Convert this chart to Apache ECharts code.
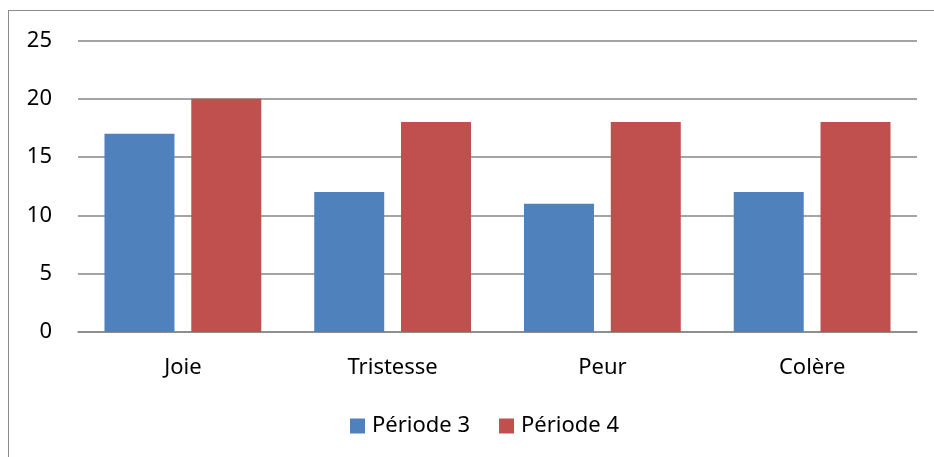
<!DOCTYPE html>
<html>
<head>
<meta charset="utf-8">
<script src="https://cdn.jsdelivr.net/npm/echarts@6/dist/echarts.min.js"></script>
<style>
html,body{margin:0;padding:0;background:#fff;}
#frame{position:absolute;left:8px;top:10px;width:1000px;height:500px;border:1.5px solid #8c8c8c;box-sizing:border-box;}
#chart{position:absolute;left:0;top:0;width:934px;height:457px;}
</style>
</head>
<body>
<div id="frame"></div>
<div id="chart"></div>
<script>
const categories = ['Joie', 'Tristesse', 'Peur', 'Colère'];
const periode3 = [17, 12, 11, 12];
const periode4 = [20, 18, 18, 18];
const yTicks = [0, 5, 10, 15, 20, 25];

const font = 'Noto Sans';
const chart = echarts.init(document.getElementById('chart'), null, {renderer: 'canvas'});
chart.setOption({
  animation: false,
  grid: {left: 78, right: 17, top: 40.5, bottom: 125, containLabel: false},
  legend: {
    data: ['Période 3', 'Période 4'],
    top: 410,
    left: 345,
    icon: 'rect',
    itemWidth: 15,
    itemHeight: 15,
    itemGap: 29,
    textStyle: {fontFamily: font, fontSize: 22, color: '#000', padding: [0, 0, 0, 2]}
  },
  xAxis: {
    type: 'category',
    data: categories,
    axisTick: {show: false},
    axisLine: {lineStyle: {color: '#868686', width: 1.5}},
    axisLabel: {fontFamily: font, fontSize: 22, color: '#000', margin: 25}
  },
  yAxis: {
    type: 'value',
    min: yTicks[0],
    max: yTicks[yTicks.length - 1],
    interval: 5,
    axisLine: {show: false},
    axisTick: {show: false},
    splitLine: {lineStyle: {color: '#868686', width: 1.5}},
    axisLabel: {fontFamily: font, fontSize: 22, color: '#000', margin: 26}
  },
  series: [
    {name: 'Période 3', type: 'bar', data: periode3, barWidth: 70, barGap: '24%', itemStyle: {color: '#4F81BD'}},
    {name: 'Période 4', type: 'bar', data: periode4, barWidth: 70, itemStyle: {color: '#C0504D'}}
  ]
});
</script>
</body>
</html>
